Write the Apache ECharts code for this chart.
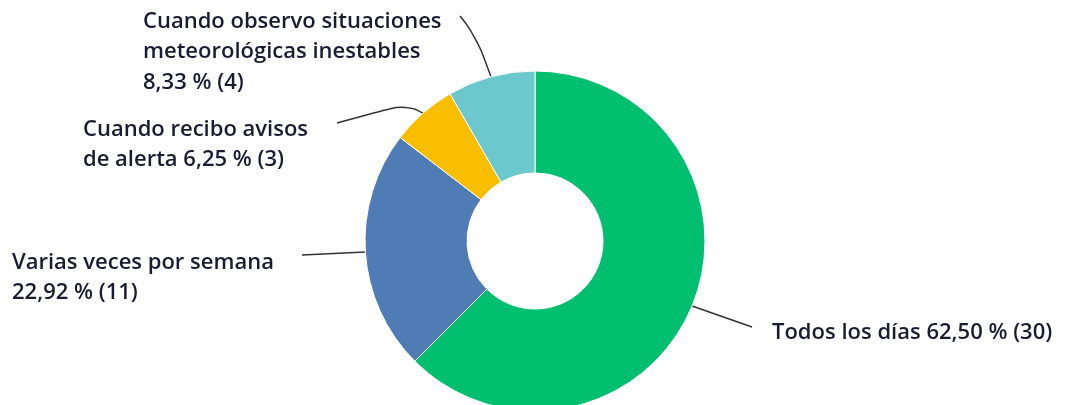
<!DOCTYPE html>
<html>
<head>
<meta charset="utf-8">
<script src="https://cdn.jsdelivr.net/npm/echarts@6/dist/echarts.min.js"></script>
<style>
html,body{margin:0;padding:0;background:#fff;}
#c{width:1071px;height:405px;}
</style>
</head>
<body>
<div id="c"></div>
<script>
// Data
var categories = ['Todos los días', 'Varias veces por semana', 'Cuando recibo avisos de alerta', 'Cuando observo situaciones meteorológicas inestables'];
var counts = [30, 11, 3, 4];
var percents = ['62,50', '22,92', '6,25', '8,33'];
var labelTemplates = [
  'Todos los días {p} % ({n})',
  'Varias veces por semana\n{p} % ({n})',
  'Cuando recibo avisos\nde alerta {p} % ({n})',
  'Cuando observo situaciones\nmeteorológicas inestables\n{p} % ({n})'
];
var colors = ['#00BF6F', '#507CB6', '#F9BE00', '#6BC8CD'];

// Label placement (pixels)
var labelPos = [
  {x: 772, y: 317},
  {x: 12, y: 247},
  {x: 83, y: 114},
  {x: 143, y: 6}
];
var linePath = [
  [[752, 327]],
  [[302, 255]],
  [[406, 104], [337, 123]],
  [[476, 36], [460, 16]]
];

var chart = echarts.init(document.getElementById('c'), null, {renderer: 'canvas'});
chart.setOption({
  animation: false,
  series: [{
    type: 'pie',
    center: [535, 241],
    radius: [68, 170],
    startAngle: 90,
    clockwise: true,
    avoidLabelOverlap: false,
    itemStyle: {borderColor: '#fff', borderWidth: 1},
    data: categories.map(function (c, i) {
      return {name: c, value: counts[i], itemStyle: {color: colors[i]}};
    }),
    label: {
      show: true,
      position: 'outside',
      fontFamily: 'Open Sans',
      fontWeight: 600,
      fontSize: 22,
      lineHeight: 30.5,
      color: '#1b1b33',
      formatter: function (p) {
        return labelTemplates[p.dataIndex].replace('{p}', percents[p.dataIndex]).replace('{n}', counts[p.dataIndex]);
      }
    },
    labelLine: {
      show: true,
      smooth: 0.5,
      lineStyle: {color: '#333', width: 1.5}
    },
    labelLayout: function (params) {
      var i = params.dataIndex;
      var pts = params.labelLinePoints ? [params.labelLinePoints[0]] : [];
      linePath[i].forEach(function (q) { pts.push(q); });
      return {
        x: labelPos[i].x,
        y: labelPos[i].y,
        align: 'left',
        verticalAlign: 'top',
        labelLinePoints: pts
      };
    }
  }]
});
</script>
</body>
</html>
